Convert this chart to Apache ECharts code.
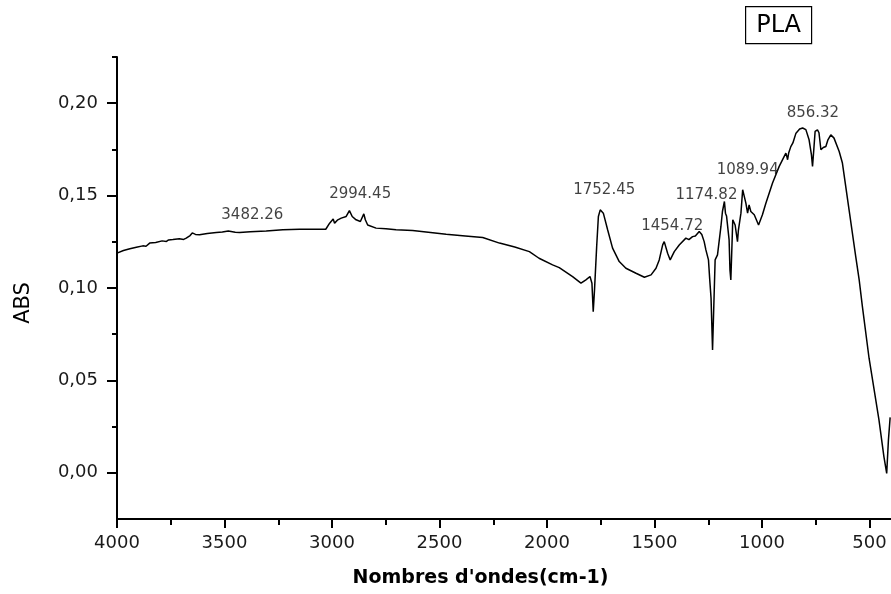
<!DOCTYPE html>
<html>
<head>
<meta charset="utf-8">
<title>PLA – spectre IR</title>
<script src="https://cdn.jsdelivr.net/npm/echarts@6.0.0/dist/echarts.min.js"></script>
<style>
  html, body { margin: 0; padding: 0; background: #fff; }
  #chart { width: 891px; height: 594px; }
</style>
</head>
<body>
<div id="chart"></div>
<script>
// Wavenumbers (cm-1) of the PLA absorbance spectrum
const wavenumbers = [
  4000, 3970, 3940, 3910, 3880, 3865, 3848, 3820, 3790, 3770, 3760, 3740, 3710, 3690, 3678,
  3660, 3650, 3635, 3616, 3580, 3538, 3510, 3482.26, 3450, 3430, 3380, 3306, 3229, 3151, 3080, 3029,
  3011, 2994.45, 2988, 2973, 2957, 2934, 2919, 2906, 2888, 2868, 2852, 2845, 2834, 2795, 2749,
  2702, 2625, 2469, 2380, 2299, 2221, 2150, 2082, 2037, 1974, 1943, 1881, 1842, 1819, 1800,
  1791, 1785, 1783, 1779, 1769, 1761, 1752.45, 1738, 1718, 1695, 1664, 1633, 1586, 1547,
  1516, 1493, 1478, 1462, 1454.72, 1439, 1427, 1408, 1385, 1354, 1340, 1323, 1310, 1292,
  1280, 1269, 1261, 1249, 1243, 1237, 1230, 1222, 1218, 1207, 1191, 1184, 1174.82, 1170,
  1165, 1161, 1153, 1149, 1145, 1140, 1136, 1125, 1114, 1110, 1098, 1089.94, 1075, 1067,
  1060, 1052, 1036, 1016, 998, 982, 951, 920, 889, 884, 881, 876, 866, 856.32, 842, 825,
  811, 796, 781, 770, 765, 759, 753, 742, 735, 726, 715, 703, 694, 680, 665, 641, 626,
  595, 564, 548, 533, 502, 456, 433, 420, 412, 404
];

// Absorbance values (ABS) for each wavenumber above
const absorbance = [
  0.1189, 0.1203, 0.1212, 0.1220, 0.1228, 0.1226, 0.1243, 0.1246, 0.1255, 0.1252, 0.1260, 0.1262, 0.1266, 0.1263, 0.1270,
  0.1284, 0.1298, 0.1290, 0.1288, 0.1295, 0.1300, 0.1303, 0.1309, 0.1302, 0.1300, 0.1305, 0.1309, 0.1315, 0.1318, 0.1318, 0.1318,
  0.1351, 0.1373, 0.1351, 0.1369, 0.1378, 0.1387, 0.1419, 0.1387, 0.1369, 0.1360, 0.1401, 0.1369, 0.1341, 0.1324, 0.1320,
  0.1315, 0.1311, 0.1291, 0.1282, 0.1273, 0.1243, 0.1222, 0.1197, 0.1161, 0.1125, 0.1110, 0.1062, 0.1026, 0.1044, 0.1062,
  0.1026, 0.0872, 0.0863, 0.0990, 0.1224, 0.1387, 0.1423, 0.1405, 0.1315, 0.1216, 0.1143, 0.1107, 0.1080, 0.1058,
  0.1071, 0.1107, 0.1152, 0.1233, 0.1251, 0.1188, 0.1152, 0.1197, 0.1233, 0.1270, 0.1262, 0.1278, 0.1281, 0.1306,
  0.1290, 0.1251, 0.1206, 0.1152, 0.1044, 0.0946, 0.0665, 0.0990, 0.1152, 0.1179, 0.1333, 0.1414, 0.1468, 0.1405,
  0.1390, 0.1396, 0.1260, 0.1098, 0.1044, 0.1220, 0.1369, 0.1341, 0.1251, 0.1310, 0.1405, 0.1532, 0.1459, 0.1405,
  0.1450, 0.1414, 0.1396, 0.1341, 0.1396, 0.1459, 0.1568, 0.1658, 0.1730, 0.1710, 0.1694, 0.1730, 0.1765, 0.1785, 0.1838, 0.1860,
  0.1866, 0.1857, 0.1802, 0.1720, 0.1658, 0.1750, 0.1847, 0.1856, 0.1840, 0.1748, 0.1760, 0.1766, 0.1800, 0.1829, 0.1811, 0.1739, 0.1676,
  0.1423, 0.1170, 0.1044, 0.0899, 0.0620, 0.0286, 0.0087, -0.0003, 0.0177, 0.0300
];

// Annotated band positions (cm-1)
const peakWavenumbers = [3482.26, 2994.45, 1752.45, 1454.72, 1174.82, 1089.94, 856.32];

// Axis tick values
const xMajorTicks = [4000, 3500, 3000, 2500, 2000, 1500, 1000, 500];
const xMinorTicks = [3750, 3250, 2750, 2250, 1750, 1250, 750];
const yMajorTicks = [0, 0.05, 0.10, 0.15, 0.20];
const yMinorTicks = [0.025, 0.075, 0.125, 0.175, 0.225];

// Pixel offsets placing each band label above its band
const peakLabelOffsets = [[24, -16], [27, -25], [4, -20], [8, -16], [-18, -6], [5, -20], [20, -30]];

const spectrum = wavenumbers.map((w, i) => [w, absorbance[i]]);
const peakPoints = peakWavenumbers.map((w, i) => ({
  value: [w, absorbance[wavenumbers.indexOf(w)]],
  label: { offset: peakLabelOffsets[i] }
}));

const axisColor = '#000';
const tickFont = { fontFamily: 'DejaVu Sans', fontSize: 18, color: '#1a1a1a' };

const chart = echarts.init(document.getElementById('chart'), null, { renderer: 'canvas' });

chart.setOption({
  animation: false,
  backgroundColor: '#fff',
  grid: { left: 117, top: 57, width: 775, height: 462 },
  xAxis: [
    {
      type: 'value',
      inverse: true,
      min: 400,
      max: 4000,
      name: "Nombres d'ondes(cm-1)",
      nameLocation: 'middle',
      nameGap: 50,
      nameTextStyle: {
        fontFamily: 'DejaVu Sans', fontSize: 19, fontWeight: 'bold', color: '#000',
        padding: [0, 47, 0, 0]
      },
      axisLine: { show: true, onZero: false, lineStyle: { color: axisColor, width: 2 } },
      axisTick: { show: true, customValues: xMajorTicks, length: 9, lineStyle: { color: axisColor, width: 2 } },
      axisLabel: { show: true, customValues: xMajorTicks, margin: 15, formatter: v => String(v), ...tickFont },
      splitLine: { show: false }
    },
    {
      type: 'value',
      inverse: true,
      min: 400,
      max: 4000,
      position: 'bottom',
      axisLine: { show: false, onZero: false },
      axisTick: { show: true, customValues: xMinorTicks, length: 6, lineStyle: { color: axisColor, width: 2 } },
      axisLabel: { show: false },
      splitLine: { show: false }
    }
  ],
  yAxis: [
    {
      type: 'value',
      min: -0.025,
      max: 0.225,
      name: 'ABS',
      nameLocation: 'middle',
      nameRotate: 90,
      nameGap: 83,
      nameTextStyle: {
        fontFamily: 'DejaVu Sans', fontSize: 21, color: '#000',
        padding: [0, 30, 0, 0]
      },
      axisLine: { show: true, onZero: false, lineStyle: { color: axisColor, width: 2 } },
      axisTick: { show: true, customValues: yMajorTicks, length: 10, lineStyle: { color: axisColor, width: 2 } },
      axisLabel: {
        show: true,
        customValues: yMajorTicks,
        margin: 19,
        formatter: v => v.toFixed(2).replace('.', ','),
        ...tickFont
      },
      splitLine: { show: false }
    },
    {
      type: 'value',
      min: -0.025,
      max: 0.225,
      position: 'left',
      axisLine: { show: false, onZero: false },
      axisTick: { show: true, customValues: yMinorTicks, length: 5, lineStyle: { color: axisColor, width: 2 } },
      axisLabel: { show: false },
      splitLine: { show: false }
    }
  ],
  graphic: [
    {
      type: 'group',
      left: 745,
      top: 6,
      children: [
        { type: 'rect', shape: { x: 0, y: 0, width: 66, height: 37 },
          style: { fill: '#fff', stroke: '#000', lineWidth: 1.2 } },
        { type: 'text', x: 33, y: 19,
          style: { text: 'PLA', fontFamily: 'DejaVu Sans', fontSize: 24, fill: '#000',
                   align: 'center', verticalAlign: 'middle' } }
      ]
    }
  ],
  series: [
    {
      name: 'PLA',
      type: 'line',
      data: spectrum,
      xAxisIndex: 0,
      yAxisIndex: 0,
      showSymbol: false,
      symbol: 'none',
      lineStyle: { color: '#000', width: 1.5 },
      clip: true
    },
    {
      name: 'bandes',
      type: 'scatter',
      data: peakPoints,
      xAxisIndex: 0,
      yAxisIndex: 0,
      symbolSize: 1,
      itemStyle: { color: 'rgba(0,0,0,0)' },
      label: {
        show: true,
        position: 'inside',
        formatter: p => p.value[0].toFixed(2),
        fontFamily: 'DejaVu Sans',
        fontSize: 15,
        color: '#111'
      },
      silent: true,
      z: 5
    }
  ]
});
</script>
</body>
</html>
